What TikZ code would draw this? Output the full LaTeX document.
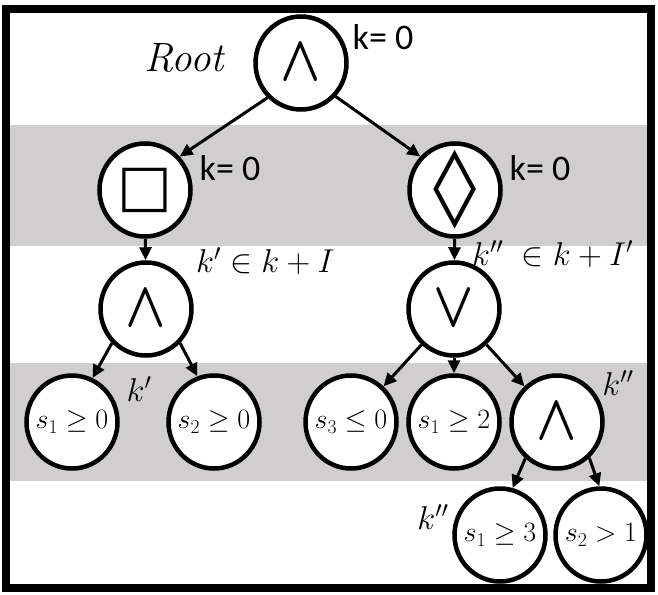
\RequirePackage{fix-cm}
\documentclass[tikz,border=0pt]{standalone}
\usepackage{fontspec}
\usetikzlibrary{shapes.geometric,arrows.meta}
\newfontfamily\kfont{Carlito}
\newfontfamily\symfont{DejaVu Sans}
\definecolor{band}{RGB}{208,206,206}
\newcommand{\opwedge}{\scalebox{0.85}[1.04]{\boldmath$\wedge$}}
\newcommand{\opvee}{\scalebox{0.85}[1.04]{\boldmath$\vee$}}
\begin{document}
\begin{tikzpicture}[x=1pt,y=-1pt,
  nd/.style={ellipse, draw, line width=4.5pt, fill=white, minimum width=91pt, minimum height=93pt, inner sep=-14pt, font=\fontsize{28}{28}\selectfont},
  opnd/.style={nd, font=\fontsize{62}{62}\selectfont},
  arr/.style={line width=3pt, -{Triangle[length=13pt,width=12pt]}},
  klab/.style={font=\kfont\fontsize{36}{36}\selectfont, inner sep=0pt},
  mlab/.style={font=\fontsize{33}{33}\selectfont, inner sep=0pt}]
\useasboundingbox (0,0) rectangle (658,594);
\fill[band] (10,125) rectangle (647,246);
\fill[band] (10,363) rectangle (647,481);
\draw[line width=8pt] (6,9) rectangle (650.5,587.5);
% nodes
\node[opnd] (root) at (301,63) {\opwedge};
\node[opnd, font=\symfont\fontsize{58}{58}\selectfont] (box) at (145,190) {□};
\node[opnd, font=\symfont\fontsize{76}{76}\selectfont, inner sep=-25pt] (dia) at (455,190) {\scalebox{1.15}[1]{◊}};
\node[opnd] (and1) at (146,309) {\opwedge};
\node[opnd] (or1) at (454,309) {\opvee};
\node[nd] (a) at (72,422) {$s_1\geq 0$};
\node[nd] (b) at (214,422) {$s_2\geq 0$};
\node[nd] (c) at (351,422) {$s_3\leq 0$};
\node[nd] (d) at (454,422) {$s_1\geq 2$};
\node[opnd] (and2) at (557,422) {\opwedge};
\node[nd] (e) at (500,535) {$s_1\geq 3$};
\node[nd] (f) at (601,535) {$s_2>1$};
% labels
\node[mlab, font=\fontsize{41}{41}\selectfont] (rootlab) at (185,58) {\textit{Root}};
\node[klab] (k0a) at (383,37) {k= 0};
\node[klab] (k0b) at (230,168) {k= 0};
\node[klab] (k0c) at (540,168) {k= 0};
\node[mlab, anchor=base west] (kp) at (196,272) {$k'\in k+I$};
\node[mlab, anchor=base west] (kpp) at (472,265) {$k''\;\in k+I'$};
\node[mlab] (kp2) at (139,389) {$k'$};
\node[mlab] (kpp2) at (618,383) {$k''$};
\node[mlab] (kpp3) at (433,517) {$k''$};
% connectors
\draw[arr] (root.226) -- (box.44);
\draw[arr] (root.316) -- (dia.136);
\draw[arr] (box) -- (and1);
\draw[arr] (dia) -- (or1);
\draw[arr] (and1.225) -- (a.65);
\draw[arr] (and1.315) -- (b.110);
\draw[arr] (or1) -- (c);
\draw[arr] (or1) -- (d);
\draw[arr] (or1) -- (and2);
\draw[arr] (and2.229) -- (e.75);
\draw[arr] (and2.312) -- (f.92);
\end{tikzpicture}
\end{document}
